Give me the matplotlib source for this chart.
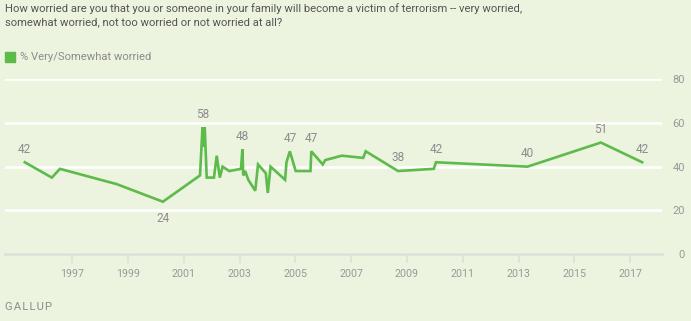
import matplotlib
matplotlib.use("Agg")
import matplotlib.pyplot as plt
import matplotlib.patches as mpatches

# survey dates as decimal years, % very/somewhat worried
years = [1995.30, 1996.27, 1996.56, 1998.60, 2000.25, 2001.58, 2001.67, 2001.71,
         2001.75, 2001.82, 2002.08, 2002.18, 2002.29, 2002.39, 2002.63, 2003.05,
         2003.10, 2003.13, 2003.20, 2003.31, 2003.56, 2003.66, 2003.94, 2004.01,
         2004.11, 2004.63, 2004.68, 2004.80, 2005.01, 2005.54, 2005.57, 2005.98,
         2006.07, 2006.66, 2007.43, 2007.52, 2008.68, 2009.96, 2010.04, 2013.32,
         2015.95, 2017.43]
worried = [42, 35, 39, 32, 24, 36, 58, 49,
           58, 35, 35, 45, 35, 40, 38, 39,
           48, 36, 38, 34, 29, 41, 37, 28,
           40, 34, 42, 47, 38, 38, 47, 41,
           43, 45, 44, 47, 38, 39, 42, 40,
           51, 42]

# which points get a value label (index), and whether it sits below
label_idx = [0, 4, 6, 16, 27, 30, 36, 38, 39, 40, 41]
label_below = [4]

xticks = list(range(1997, 2018, 2))
yticks = [0, 20, 40, 60, 80]

title = ("How worried are you that you or someone in your family will become a victim of terrorism -- very worried,\n"
         "somewhat worried, not too worried or not worried at all?")
series_name = "% Very/Somewhat worried"

BG = "#ecf3df"
GREEN = "#5dbb4c"
GRAY = "#8c8c8c"

plt.rcParams['font.family'] = ['Roboto', 'DejaVu Sans']

W, H = 691, 321
fig = plt.figure(figsize=(W / 100, H / 100), dpi=100)
fig.patch.set_facecolor(BG)

ax = fig.add_axes([5 / W, (H - 254.3) / H, (661.7 - 5) / W, (254.3 - 79) / H])
ax.set_facecolor(BG)

ax.plot(years, worried, color=GREEN, lw=1.9, solid_joinstyle='miter', zorder=3)

for i in label_idx:
    below = i in label_below
    ax.annotate(str(worried[i]), (years[i], worried[i]),
                xytext=(0, -12.2 if below else 9.4), textcoords='offset points',
                ha='center', va='center', fontsize=8.5, color=GRAY)

ax.set_xlim(1994.59, 2018.13)
ax.set_ylim(0, 80)
ax.set_xticks(xticks)
ax.set_xticklabels([str(y) for y in xticks])
ax.set_yticks(yticks)

ax.grid(axis='y', color='white', lw=1.8)
ax.set_axisbelow(True)
for s in ['top', 'left', 'right']:
    ax.spines[s].set_visible(False)
ax.spines['bottom'].set_color('#dcdfd6')
ax.spines['bottom'].set_linewidth(1.8)

ax.yaxis.tick_right()
ax.tick_params(axis='y', length=0, pad=16.8, labelsize=8, labelcolor='#999999')
for lab in ax.get_yticklabels():
    lab.set_horizontalalignment('right')
ax.tick_params(axis='x', direction='out', length=6.5, width=1.1, color='#dcdfd6',
               pad=4, labelsize=7.7, labelcolor='#999999')

fig.text(5 / W, 1 - 3.5 / H, title, ha='left', va='top', fontsize=8.1,
         color='#555555', linespacing=1.35,
         family=['Liberation Sans Narrow', 'Roboto', 'DejaVu Sans'])

fig.patches.append(mpatches.Rectangle((5 / W, 1 - 62 / H), 10 / W, 10 / H,
                                      transform=fig.transFigure, color=GREEN))
fig.text(20.5 / W, 1 - 57.3 / H, series_name, ha='left', va='center',
         fontsize=8.1, color=GRAY)

fig.text(5 / W, 1 - 307 / H, "G A L L U P".replace(" ", "\u200a"), ha='left',
         va='center', fontsize=8.1, color=GRAY)

fig.savefig("out.png", dpi=100, facecolor=BG)
